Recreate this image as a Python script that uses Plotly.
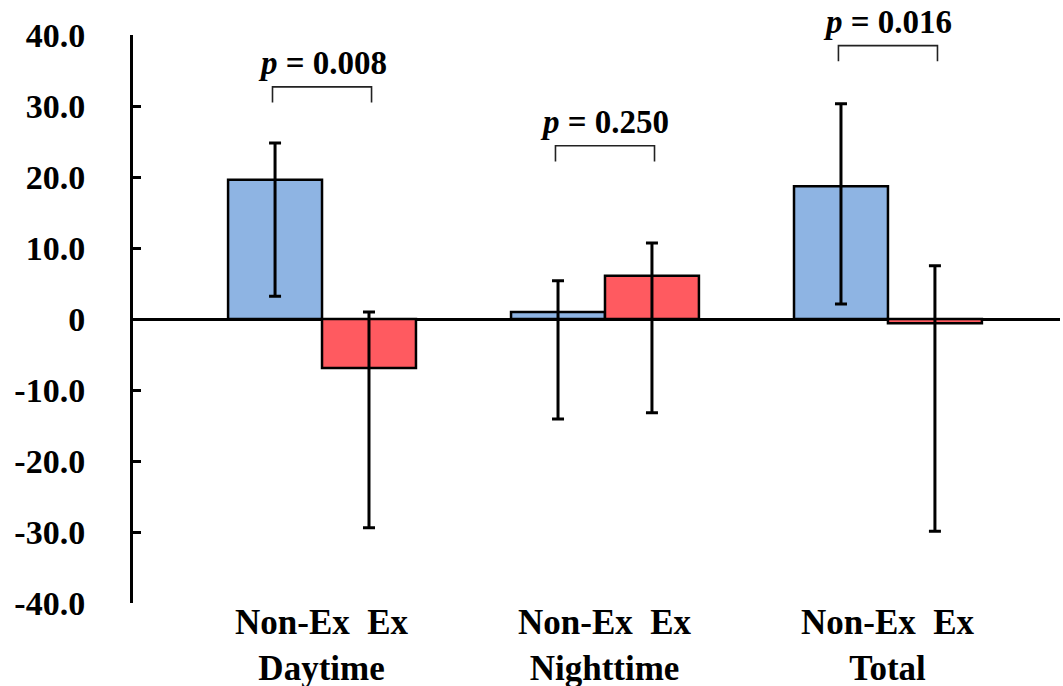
import plotly.graph_objects as go

categories = ["Daytime", "Nighttime", "Total"]
groups = ["Non-Ex", "Ex"]

nonex_values = [19.6, 1.0, 18.7]
nonex_err_plus = [5.2, 4.4, 11.6]
nonex_err_minus = [16.4, 15.1, 16.6]

ex_values = [-6.9, 6.1, -0.6]
ex_err_plus = [7.9, 4.6, 8.1]
ex_err_minus = [22.5, 19.3, 29.3]

p_labels = ["0.008", "0.250", "0.016"]
bracket_top = [32.7, 24.4, 38.5]
bracket_drop = 2.2

y_ticks = [40, 30, 20, 10, 0, -10, -20, -30, -40]
y_tick_labels = ["40.0", "30.0", "20.0", "10.0", "0", "-10.0", "-20.0", "-30.0", "-40.0"]

BLUE = "#8EB4E3"
RED = "#FF5A60"
FONT = "Liberation Serif"

x_idx = list(range(len(categories)))

fig = go.Figure()
fig.add_trace(go.Bar(
    x=x_idx, y=nonex_values, name=groups[0],
    marker=dict(color=BLUE, line=dict(color="black", width=2.5)),
    error_y=dict(type="data", symmetric=False, array=nonex_err_plus,
                 arrayminus=nonex_err_minus, color="black", thickness=3, width=6),
))
fig.add_trace(go.Bar(
    x=x_idx, y=ex_values, name=groups[1],
    marker=dict(color=RED, line=dict(color="black", width=2.5)),
    error_y=dict(type="data", symmetric=False, array=ex_err_plus,
                 arrayminus=ex_err_minus, color="black", thickness=3, width=6),
))

half = 0.175
for i, (p, yb) in enumerate(zip(p_labels, bracket_top)):
    fig.add_shape(type="path",
                  path=f"M {i-half},{yb-bracket_drop} L {i-half},{yb} L {i+half},{yb} L {i+half},{yb-bracket_drop}",
                  xref="x", yref="y", line=dict(color="#222222", width=1.6))
    fig.add_annotation(x=i, y=yb, xref="x", yref="y", yshift=4,
                       text=f"<i>p</i> = {p}", showarrow=False, yanchor="bottom",
                       font=dict(family=FONT, size=33, color="black", weight="bold"))

for i, c in enumerate(categories):
    fig.add_annotation(x=i, y=0, xref="x", yref="paper", yanchor="top", yshift=2,
                       text=f"{groups[0]}  {groups[1]}<br>{c}", showarrow=False,
                       font=dict(family=FONT, size=35, color="black", weight="bold"))

fig.update_layout(
    width=1063, height=686,
    margin=dict(l=133, r=3, t=35, b=83),
    paper_bgcolor="white", plot_bgcolor="white",
    showlegend=False,
    barmode="group", bargap=0.336, bargroupgap=0,
    font=dict(family=FONT, color="black"),
    xaxis=dict(range=[-0.668, 2.608], tickvals=x_idx, showticklabels=False,
               showline=False, showgrid=False, zeroline=False, ticks="", automargin=False),
    yaxis=dict(range=[-40, 40], tickvals=y_ticks, ticktext=y_tick_labels,
               showline=True, linecolor="black", linewidth=3,
               ticks="inside", ticklen=8, tickwidth=3, tickcolor="black",
               ticklabelstandoff=38, automargin=False,
               showgrid=False, zeroline=True, zerolinecolor="black", zerolinewidth=3,
               tickfont=dict(family=FONT, size=34, color="black", weight="bold")),
)

fig.write_html("out.html", config={"displayModeBar": False},
               post_script="document.body.style.margin='0px';document.body.style.overflow='hidden';")
